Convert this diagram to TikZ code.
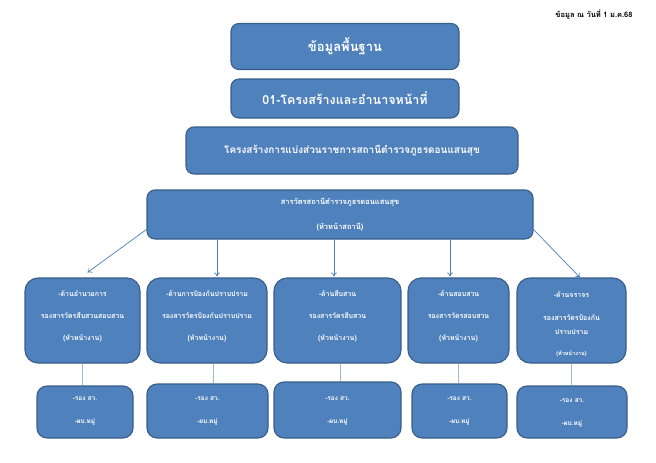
\documentclass[tikz,border=0pt]{standalone}
\usepackage{fontspec}
\newfontfamily\thai[Script=Thai]{Loma}
\usetikzlibrary{arrows.meta,calc}
\definecolor{boxfill}{HTML}{4F81BD}
\definecolor{boxline}{HTML}{385D8A}
\definecolor{arrcol}{HTML}{4A7EBB}
\definecolor{lincol}{HTML}{9DB9DC}
\begin{document}
\begin{tikzpicture}[x=1pt,y=-1pt,
  base/.style={draw=boxline,line width=1.1pt,fill=boxfill,text=white,align=center,inner sep=0pt},
  topbox/.style={base,rounded corners=8pt},
  midbox/.style={base,rounded corners=13pt,minimum height=85pt},
  lowbox/.style={base,rounded corners=10pt},
  mtxt/.style={text=white,align=center,inner sep=0pt,font=\thai\bfseries\fontsize{7}{22}\selectfont},
  ltxt/.style={text=white,align=center,inner sep=0pt,font=\thai\bfseries\fontsize{6.5}{23}\selectfont},
  arr/.style={draw=arrcol,line width=0.7pt,-{To[length=4pt,width=6pt]}},
  lin/.style={draw=lincol,line width=1pt}]
\useasboundingbox (0,0) rectangle (656,463);
\node[font=\thai\bfseries\fontsize{7.5}{9}\selectfont,inner sep=0pt] (date) at (594,15) {ข้อมูล ณ วันที่ 1 ม.ค.68};
\node[topbox,minimum width=228pt,minimum height=46pt,font=\thai\bfseries\fontsize{13}{16}\selectfont] (A) at (345,46.5) {ข้อมูลพื้นฐาน};
\node[topbox,minimum width=228pt,minimum height=39pt,font=\thai\bfseries\fontsize{12.5}{15}\selectfont] (B) at (345,98.5) {01-โครงสร้างและอำนาจหน้าที่};
\node[topbox,minimum width=332pt,minimum height=47pt,font=\thai\bfseries\fontsize{10}{12}\selectfont] (C) at (352,150.5) {โครงสร้างการแบ่งส่วนราชการสถานีตำรวจภูธรดอนแสนสุข};
\node[topbox,minimum width=386pt,minimum height=49pt,font=\thai\bfseries\fontsize{7.5}{25}\selectfont] (D) at (340,214.5) {สารวัตรสถานีตำรวจภูธรดอนแสนสุข\\(หัวหน้าสถานี)};
% middle row
\node[midbox,minimum width=115pt] (M1) at (82.5,320.5) {};
\node[midbox,minimum width=120pt] (M2) at (207,320.5) {};
\node[midbox,minimum width=127pt] (M3) at (337.5,320.5) {};
\node[midbox,minimum width=101pt] (M4) at (458.5,320.5) {};
\node[midbox,minimum width=109pt] (M5) at (571.5,320.5) {};
\node[mtxt] (T1) at ([yshift=4.5pt]M1.center) {-ด้านอำนวยการ\\รองสารวัตรสืบสวนสอบสวน\\(หัวหน้างาน)};
\node[mtxt] (T2) at ([yshift=4.5pt]M2.center) {-ด้านการป้องกันปราบปราม\\รองสารวัตรป้องกันปราบปราม\\(หัวหน้างาน)};
\node[mtxt] (T3) at ([yshift=4.5pt]M3.center) {-ด้านสืบสวน\\รองสารวัตรสืบสวน\\(หัวหน้างาน)};
\node[mtxt] (T4) at ([yshift=4.5pt]M4.center) {-ด้านสอบสวน\\รองสารวัตรสอบสวน\\(หัวหน้างาน)};
\node[mtxt] (T5a) at ([yshift=26pt]M5.center) {-ด้านจราจร};
\node[mtxt] (T5b) at ([yshift=2.5pt]M5.center) {รองสารวัตรป้องกัน};
\node[mtxt] (T5c) at ([yshift=-11.5pt]M5.center) {ปราบปราม};
\node[mtxt,font=\thai\bfseries\fontsize{5.5}{7}\selectfont] (T5d) at ([yshift=-33pt]M5.center) {(หัวหน้างาน)};
% lower row
\node[lowbox,minimum width=96pt,minimum height=52pt] (L1) at (85,412) {};
\node[lowbox,minimum width=121pt,minimum height=54pt] (L2) at (207.5,411) {};
\node[lowbox,minimum width=127pt,minimum height=56pt] (L3) at (337.5,410) {};
\node[lowbox,minimum width=95pt,minimum height=54pt] (L4) at (459.5,411) {};
\node[lowbox,minimum width=110pt,minimum height=52pt] (L5) at (572,412) {};
\node[ltxt] (U1) at ([yshift=1.5pt]L1.center) {-รอง สว.\\-ผบ.หมู่};
\node[ltxt] (U2) at ([yshift=0.5pt]L2.center) {-รอง สว.\\-ผบ.หมู่};
\node[ltxt] (U3) at ([yshift=-0.5pt]L3.center) {-รอง สว.\\-ผบ.หมู่};
\node[ltxt] (U4) at ([yshift=0.5pt]L4.center) {-รอง สว.\\-ผบ.หมู่};
\node[ltxt] (U5) at ([yshift=-0.5pt]L5.center) {-รอง สว.\\-ผบ.หมู่};
% arrows from D
\draw[arr] ([yshift=-15pt]D.west) -- ([xshift=5pt,yshift=5pt]M1.north);
\draw[arr] ([xshift=10pt]M2.north |- D.south) -- ([xshift=10pt,yshift=1pt]M2.north);
\draw[arr] ([xshift=-3.5pt]M3.north |- D.south) -- ([xshift=-3.5pt,yshift=1pt]M3.north);
\draw[arr] ([xshift=-8.5pt]M4.north |- D.south) -- ([xshift=-8.5pt,yshift=1pt]M4.north);
\draw[arr] ([yshift=-15pt]D.east) -- ([xshift=8.5pt]M5.north);
% connectors to lower boxes
\coordinate (c2) at ([xshift=6pt]M2.south);
\coordinate (c3) at ([xshift=2.5pt]M3.south);
\draw[lin] (M1.south) -- (L1.north -| M1.south);
\draw[lin] (c2) -- (L2.north -| c2);
\draw[lin] (c3) -- (L3.north -| c3);
\draw[lin] (M4.south) -- (L4.north -| M4.south);
\draw[lin] (M5.south) -- (L5.north -| M5.south);
\end{tikzpicture}
\end{document}
